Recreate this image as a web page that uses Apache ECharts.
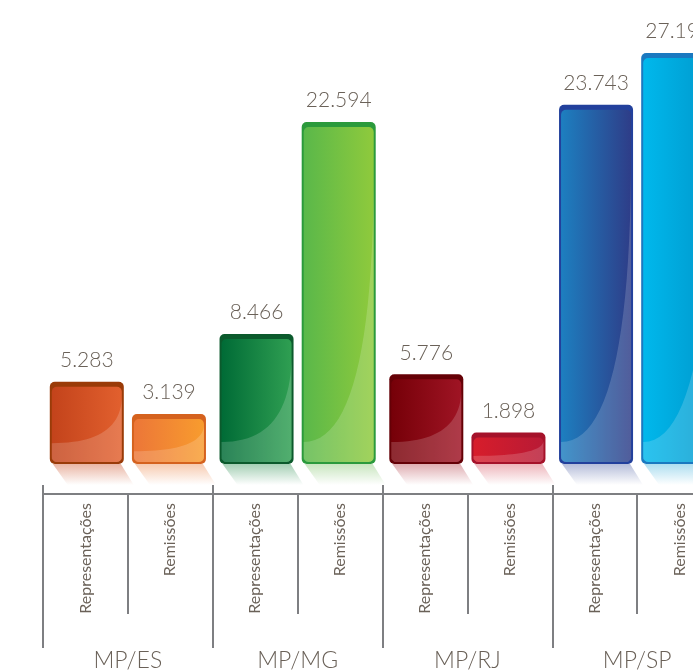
<!DOCTYPE html>
<html><head><meta charset="utf-8">
<script src="https://cdn.jsdelivr.net/npm/echarts@6/dist/echarts.min.js"></script>
<style>html,body{margin:0;padding:0;background:#fff;overflow:hidden}#c{width:693px;height:672px}</style>
</head><body><div id="c"></div>
<script>
// ---- data ----
const groups = ['MP/ES', 'MP/MG', 'MP/RJ', 'MP/SP'];
const subLabels = ['Representações', 'Remissões'];
const representacoes = [5283, 8466, 5776, 23743];
const remissoes = [3139, 22594, 1898, 27192];

// ---- styles ----
const repColors = [
  {border: '#9a3b08', c1: '#c3431b', c2: '#e2602e', refl: '#d8795a'},
  {border: '#0b5a2c', c1: '#006b36', c2: '#2f9f52', refl: '#5aa878'},
  {border: '#650006', c1: '#760008', c2: '#9f1424', refl: '#c56a72'},
  {border: '#22409c', c1: '#1d7fc0', c2: '#2e3d88', refl: '#7a88bb'}
];
const remColors = [
  {border: '#d5621e', c1: '#ec7638', c2: '#f89c2e', refl: '#f0a070'},
  {border: '#2b9a3c', c1: '#5ab84a', c2: '#8fca3c', refl: '#9bd08a'},
  {border: '#a5122a', c1: '#d71d2b', c2: '#b81a35', refl: '#e07a85'},
  {border: '#1a79c0', c1: '#00b8ec', c2: '#0098cc', refl: '#6cc4e4'}
];
const textColor = '#6a6158';
const lineColor = '#7e7f82';
const FONT = 'Lato, "Open Sans", sans-serif';

function fmt(v) {
  return String(v).replace(/\B(?=(\d{3})+(?!\d))/g, '.');
}

function makeRender(which, pal) {
  return function (params, api) {
    const cat = api.value(0), val = api.value(1);
    const band = api.size([1, 0])[0];
    const center = api.coord([cat, 0])[0];
    const barW = band * 0.436, gap = band * 0.048;
    const x = which === 0 ? center - gap / 2 - barW : center + gap / 2;
    const top = api.coord([cat, val])[1];
    const bottom = api.coord([cat, 0])[1] + 3;
    const h = bottom - top;
    const c = pal[cat];
    const ix = x + 2, iy = top + 5, iw = barW - 4, ib = bottom - 2, ih = ib - iy;
    const S = ib - Math.min(20, 0.25 * ih);
    const E = iy + 0.12 * ih;
    const pts = [];
    const N = 24;
    for (let k = 0; k <= N; k++) {
      const t = k / N;
      pts.push([ix + iw * (1 - (1 - t) * (1 - t)), S - (S - E) * t * t]);
    }
    pts.push([ix + iw, ib - 3]);
    pts.push([ix + iw - 3, ib]);
    pts.push([ix + 3, ib]);
    pts.push([ix, ib - 3]);
    return {
      type: 'group',
      children: [
        {
          type: 'polygon',
          shape: {points: [[x + 3, bottom], [x + barW - 3, bottom], [x + barW + 10, bottom + 21], [x + 18, bottom + 21]]},
          style: {
            fill: new echarts.graphic.LinearGradient(0, 0, 0, 1, [
              {offset: 0, color: echarts.color.modifyAlpha(c.refl, 0.55)},
              {offset: 1, color: echarts.color.modifyAlpha(c.refl, 0)}
            ])
          }
        },
        {
          type: 'rect',
          shape: {x: x, y: top, width: barW, height: h, r: 5},
          style: {fill: c.border}
        },
        {
          type: 'rect',
          shape: {x: ix, y: iy, width: iw, height: ih, r: 5},
          style: {
            fill: new echarts.graphic.LinearGradient(0, 0, 1, 0, [
              {offset: 0, color: c.c1},
              {offset: 1, color: c.c2}
            ])
          }
        },
        {
          type: 'polygon',
          shape: {points: pts},
          style: {fill: 'rgba(255,255,255,0.17)'}
        },
        {
          type: 'text',
          x: x + barW / 2,
          y: top - 11,
          style: {
            text: fmt(val),
            fill: textColor,
            font: '300 21px ' + FONT,
            align: 'center',
            verticalAlign: 'bottom'
          }
        }
      ]
    };
  };
}

const subCats = [];
groups.forEach(function () { subLabels.forEach(function (s) { subCats.push(s); }); });

const chart = echarts.init(document.getElementById('c'), null, {renderer: 'canvas'});
chart.setOption({
  animation: false,
  backgroundColor: '#ffffff',
  grid: {left: 43, top: 11, right: -29, bottom: 178, containLabel: false, outerBoundsMode: 'none'},
  xAxis: [
    {
      type: 'category', data: groups, position: 'bottom',
      axisLine: {show: true, onZero: false, lineStyle: {color: lineColor, width: 2}},
      axisTick: {show: true, interval: 0, length: 154, lineStyle: {color: lineColor, width: 2}},
      axisLabel: {show: true, interval: 0, margin: 155, fontSize: 23, fontFamily: FONT, fontWeight: 300, color: textColor},
      splitLine: {show: false}
    },
    {
      type: 'category', data: groups, position: 'bottom',
      axisLine: {show: false, onZero: false},
      axisTick: {show: true, interval: 0, alignWithLabel: true, length: 120, lineStyle: {color: lineColor, width: 2}},
      axisLabel: {show: false}
    },
    {
      type: 'category', data: groups, position: 'bottom',
      axisLine: {show: false, onZero: false},
      axisTick: {show: true, interval: 0, inside: true, length: 9, lineStyle: {color: lineColor, width: 2}},
      axisLabel: {show: false}
    },
    {
      type: 'category', data: subCats, position: 'bottom',
      axisLine: {show: false, onZero: false},
      axisTick: {show: false},
      axisLabel: {show: true, interval: 0, rotate: 90, margin: 9, fontSize: 16, fontFamily: FONT, fontWeight: 'normal', color: textColor}
    }
  ],
  yAxis: {type: 'value', min: -2200, max: 30000, show: false, splitLine: {show: false}},
  series: [
    {
      type: 'custom', name: subLabels[0], xAxisIndex: 0, yAxisIndex: 0,
      renderItem: makeRender(0, repColors),
      data: representacoes.map(function (v, i) { return [i, v]; }),
      clip: false
    },
    {
      type: 'custom', name: subLabels[1], xAxisIndex: 0, yAxisIndex: 0,
      renderItem: makeRender(1, remColors),
      data: remissoes.map(function (v, i) { return [i, v]; }),
      clip: false
    }
  ]
});
</script>
</body></html>
